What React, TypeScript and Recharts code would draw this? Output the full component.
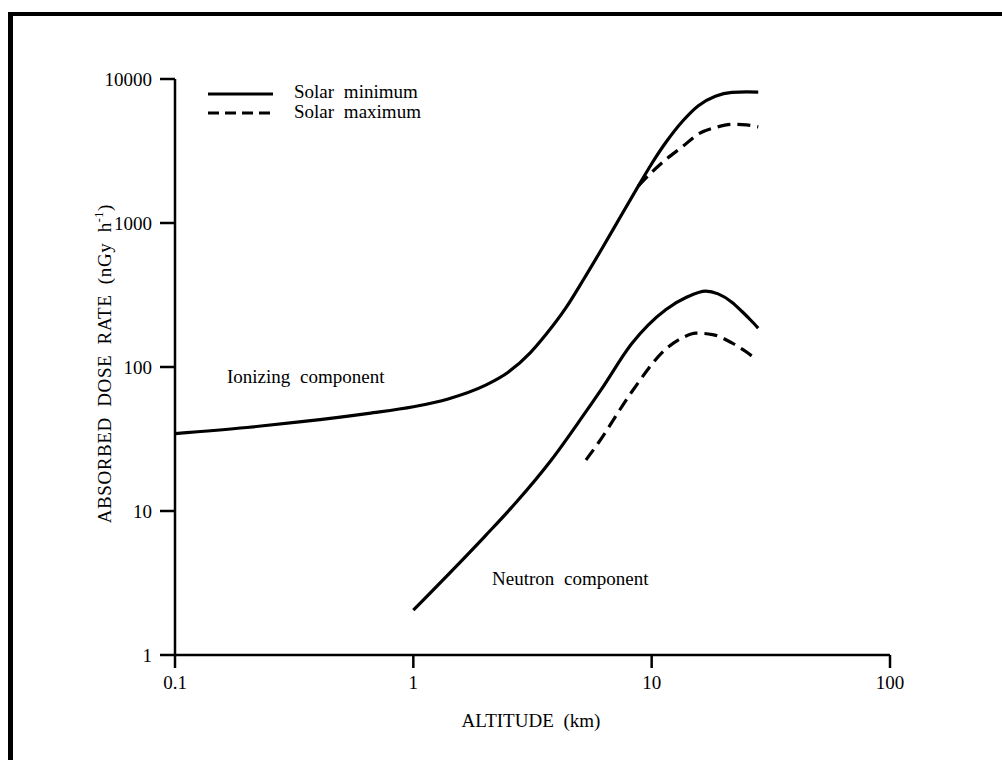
import React from "react";
import { Line, LineChart, XAxis, YAxis } from "recharts";

// altitude (km) and absorbed dose rate (nGy/h)
const ionMinAlt = [0.1, 0.2, 0.34, 0.65, 1.0, 1.4, 2.0, 2.5, 3.1, 3.6, 4.35, 5.2, 6.2, 7.5, 8.8, 10, 11.5, 13.5, 15.7, 18.5, 21.7, 25, 28];
const ionMinDose = [34.5, 38, 41.7, 47.7, 53, 60, 74.5, 92, 126, 168, 255, 410, 668, 1150, 1810, 2580, 3650, 5110, 6530, 7600, 8070, 8130, 8110];

const ionMaxAlt = [8.8, 10, 11.5, 13.5, 15.7, 18.5, 21.7, 25, 28];
const ionMaxDose = [1810, 2250, 2770, 3400, 4150, 4600, 4850, 4800, 4650];

const neuMinAlt = [1.0, 2.0, 2.69, 3.8, 5.08, 6.17, 8.24, 11.45, 14, 16.9, 19, 21.7, 24, 26, 28];
const neuMinDose = [2.05, 6.7, 11.4, 22.7, 44.3, 70.5, 145, 250, 305, 336, 322, 282, 242, 212, 186];

const neuMaxAlt = [5.3, 6.0, 8.24, 11.45, 13.5, 15.3, 18, 21.7, 25, 27.6];
const neuMaxDose = [22.6, 30, 67, 133, 160, 172, 168, 147, 127, 112];

const xTicks = [0.1, 1, 10, 100];
const yTicks = [1, 10, 100, 1000, 10000];

const pairs = (xs: number[], ys: number[]) => xs.map((x, i) => ({ x, y: ys[i] }));

const ionMin = pairs(ionMinAlt, ionMinDose);
const ionMax = pairs(ionMaxAlt, ionMaxDose);
const neuMin = pairs(neuMinAlt, neuMinDose);
const neuMax = pairs(neuMaxAlt, neuMaxDose);

const FONT = "'Liberation Serif', 'Times New Roman', serif";
const tickStyle = { fill: "#000", fontSize: 19, fontFamily: FONT };

const textStyle: React.CSSProperties = {
  position: "absolute",
  fontFamily: FONT,
  fontSize: 19,
  lineHeight: "19px",
  wordSpacing: 5,
  whiteSpace: "nowrap",
  color: "#000",
};

function LegendBox() {
  return (
    <svg width={240} height={46} style={{ position: "absolute", left: 200, top: 80 }}>
      <line x1={8} x2={73} y1={14} y2={14} stroke="#000" strokeWidth={3} />
      <text x={94} y={18} fontFamily={FONT} fontSize={19} wordSpacing={5}>
        Solar minimum
      </text>
      <line x1={8} x2={73} y1={33} y2={33} stroke="#000" strokeWidth={3} strokeDasharray="11 6" />
      <text x={94} y={38} fontFamily={FONT} fontSize={19} wordSpacing={5}>
        Solar maximum
      </text>
    </svg>
  );
}

export default function App() {
  return (
    <div style={{ position: "absolute", left: 0, top: 0, width: 1002, height: 760, background: "#fff" }}>
      <div
        style={{
          position: "absolute",
          left: 8,
          top: 12,
          width: 994,
          height: 748,
          borderTop: "4px solid #000",
          borderLeft: "5px solid #000",
          boxSizing: "border-box",
        }}
      />
      <LineChart width={1002} height={760} margin={{ top: 79, right: 112, bottom: 65, left: 100 }}>
        <XAxis
          dataKey="x"
          type="number"
          scale="log"
          domain={[0.1, 100]}
          ticks={xTicks}
          allowDataOverflow
          height={40}
          tickSize={13}
          tickMargin={8}
          tick={tickStyle}
          tickFormatter={(v) => String(v)}
          axisLine={{ stroke: "#000", strokeWidth: 2.5 }}
          tickLine={{ stroke: "#000", strokeWidth: 2.5 }}
        />
        <YAxis
          dataKey="y"
          type="number"
          scale="log"
          domain={[1, 10000]}
          ticks={yTicks}
          allowDataOverflow
          width={75}
          tickSize={15}
          tickMargin={8}
          tick={tickStyle}
          tickFormatter={(v) => String(v)}
          axisLine={{ stroke: "#000", strokeWidth: 2.5 }}
          tickLine={{ stroke: "#000", strokeWidth: 2.5 }}
        />
        <Line data={ionMin} dataKey="y" type="monotone" stroke="#000" strokeWidth={3.2} dot={false} isAnimationActive={false} />
        <Line data={ionMax} dataKey="y" type="monotone" stroke="#000" strokeWidth={3.2} strokeDasharray="13 7" dot={false} isAnimationActive={false} />
        <Line data={neuMin} dataKey="y" type="monotone" stroke="#000" strokeWidth={3.2} dot={false} isAnimationActive={false} />
        <Line data={neuMax} dataKey="y" type="monotone" stroke="#000" strokeWidth={3.2} strokeDasharray="13 7" dot={false} isAnimationActive={false} />
      </LineChart>
      <LegendBox />
      <div style={{ ...textStyle, left: 227, top: 367 }}>Ionizing component</div>
      <div style={{ ...textStyle, left: 492, top: 569 }}>Neutron component</div>
      <div style={{ ...textStyle, left: 431, width: 200, top: 711, textAlign: "center" }}>ALTITUDE (km)</div>
      <div
        style={{
          ...textStyle,
          left: 102 - 200,
          width: 400,
          top: 362 - 10,
          textAlign: "center",
          letterSpacing: 0.6,
          transform: "rotate(-90deg)",
          transformOrigin: "50% 50%",
        }}
      >
        ABSORBED DOSE RATE (nGy h<sup style={{ fontSize: 12 }}>-1</sup>)
      </div>
    </div>
  );
}
